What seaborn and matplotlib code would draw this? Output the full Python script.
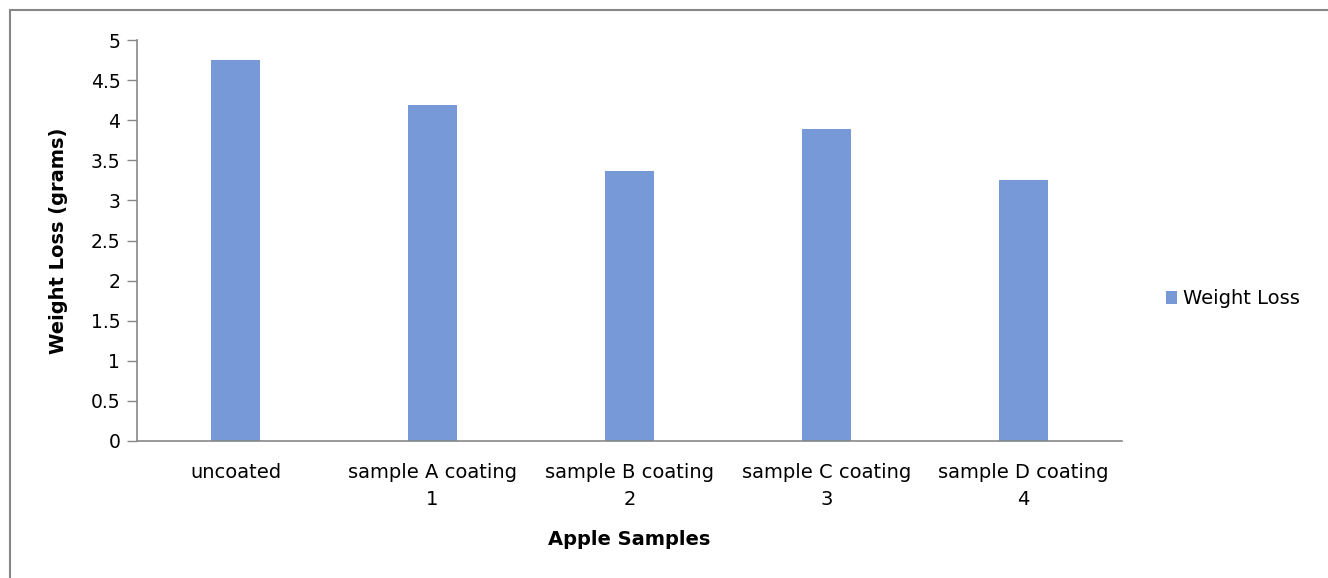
import matplotlib
matplotlib.use("Agg")
import matplotlib.pyplot as plt
import seaborn as sns
import pandas as pd
from matplotlib.lines import Line2D
from matplotlib.patches import Patch

categories = ["uncoated", "sample A coating\n1", "sample B coating\n2",
              "sample C coating\n3", "sample D coating\n4"]
weight_loss = [4.75, 4.19, 3.37, 3.89, 3.26]
series_name = "Weight Loss"
yticks = [0, 0.5, 1, 1.5, 2, 2.5, 3, 3.5, 4, 4.5, 5]
ytick_labels = ["0", "0.5", "1", "1.5", "2", "2.5", "3", "3.5", "4", "4.5", "5"]

sns.set_style("white")
plt.rcParams["font.family"] = ["DejaVu Sans"]
plt.rcParams["text.color"] = "black"
plt.rcParams["axes.labelcolor"] = "black"
plt.rcParams["xtick.color"] = "black"
plt.rcParams["ytick.color"] = "black"

df = pd.DataFrame({"cat": categories, "val": weight_loss})
bar_color = "#7799D7"

fig = plt.figure(figsize=(13.28, 5.78), dpi=100)
ax = fig.add_axes([137/1328, 1-441/578, (1122-137)/1328, (441-40)/578])
sns.barplot(data=df, x="cat", y="val", color=bar_color, width=0.25,
            saturation=1, ax=ax, edgecolor="none")

ax.set_ylim(0, 5)
ax.set_xlim(-0.5, len(categories) - 0.5)
ax.set_yticks(yticks)
ax.set_yticklabels(ytick_labels)
ax.tick_params(axis="y", length=7, width=1, color="#878787", labelcolor="black",
               labelsize=13.5, pad=5, left=True, direction="out")
ax.tick_params(axis="x", length=0, labelsize=14, labelcolor="black", pad=16)
for lab in ax.get_xticklabels():
    lab.set_linespacing(1.5)

for s in ["top", "right"]:
    ax.spines[s].set_visible(False)
for s in ["left", "bottom"]:
    ax.spines[s].set_color("#878787")
    ax.spines[s].set_linewidth(1.2)

ax.set_xlabel("Apple Samples", fontsize=14, fontweight="bold", labelpad=15)
ax.set_ylabel("Weight Loss (grams)", fontsize=14, fontweight="bold", labelpad=16)

handles = [Patch(facecolor=bar_color, edgecolor="none", label=series_name)]
fig.legend(handles=handles, loc="center left", bbox_to_anchor=(1158/1328, 1-299/578),
           frameon=False, fontsize=14, handlelength=0.6, handleheight=0.6,
           handletextpad=0.3, borderaxespad=0, labelcolor="black")

# figure border (left and top edges visible)
fig.add_artist(Line2D([10/1328, 10/1328], [0, 1-10/578], transform=fig.transFigure,
                      color="#878787", linewidth=1.5))
fig.add_artist(Line2D([10/1328, 1], [1-10/578, 1-10/578], transform=fig.transFigure,
                      color="#878787", linewidth=1.5))

fig.savefig("out.png", dpi=100)
